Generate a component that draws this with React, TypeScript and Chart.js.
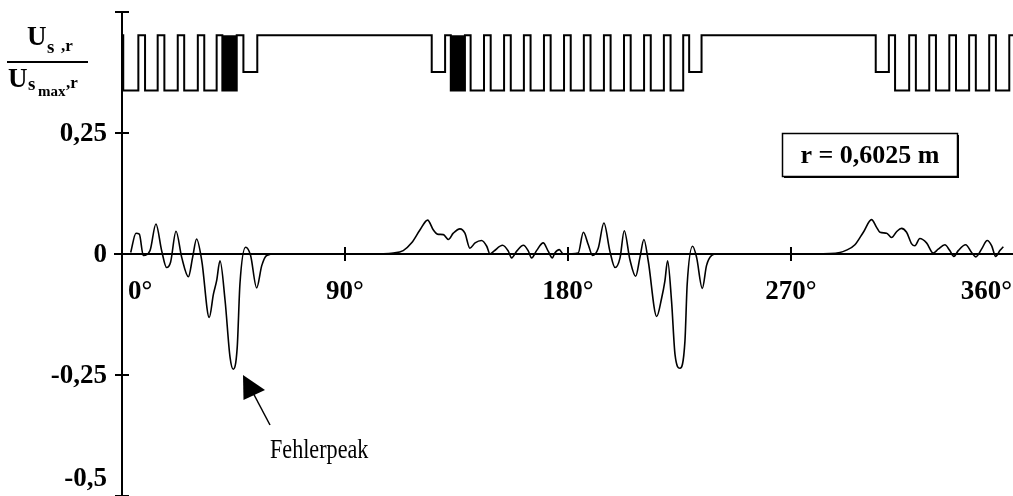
import { useEffect, useRef } from "react";
import { Chart, registerables } from "chart.js";

Chart.register(...registerables);

// Normalised signal U_s,r / U_smax,r over one revolution (angle in degrees)
const curveAngles = [
  3.5, 5.65, 7.0, 8.6, 11.3, 13.7, 16.0, 18.0, 19.6, 21.8, 24.1, 26.8, 28.5, 30.1, 32.2,
  35.2, 36.9, 38.2, 39.55, 41.6, 43.6, 44.9, 46.5, 47.6, 49.9, 51.9, 54.35, 56.4, 58.4,
  62.0, 80.0, 100.0, 109.5, 113.5, 116.9, 120.3, 123.35, 125.6, 127.25, 129.7, 131.7,
  133.7, 136.4, 138.4, 140.4, 142.5, 145.1, 147.2, 148.5, 150.1, 153.6, 155.9, 157.25,
  159.3, 162.0, 164.0, 165.3, 167.3, 170.0, 172.0, 173.7, 174.7, 176.5, 178.1, 184.1,
  186.2, 188.2, 189.9, 192.2, 194.5, 196.9, 199.0, 201.0, 202.7, 205.0, 207.3, 209.0,
  210.65, 212.4, 215.8, 217.8, 219.1, 220.2, 221.8, 223.2, 225.2, 227.2, 228.1, 230.3,
  231.9, 234.2, 235.9, 238.0, 240.0, 260.0, 280.0, 289.75, 292.4, 295.8, 299.2, 302.5,
  304.55, 305.9, 308.6, 310.6, 312.6, 314.6, 316.65, 318.7, 320.0, 322.0, 324.7, 327.4,
  329.4, 332.1, 334.1, 335.75, 337.5, 340.5, 342.9, 344.6, 346.9, 349.2, 351.0, 352.6,
  354.3, 355.7,
];
const curveValues = [
  0.003, 0.043, 0.041, -0.003, 0.007, 0.062, 0.007, -0.028, -0.017, 0.047, -0.007, -0.047,
  -0.007, 0.031, -0.014, -0.131, -0.083, -0.055, -0.014, -0.096, -0.213, -0.238, -0.193,
  -0.062, 0.014, -0.003, -0.07, -0.024, -0.003, 0.0, 0.0, 0.0, 0.002, 0.007, 0.023, 0.05,
  0.07, 0.05, 0.041, 0.04, 0.03, 0.043, 0.052, 0.043, 0.012, 0.023, 0.028, 0.016, 0.0,
  0.006, 0.018, 0.006, -0.008, 0.006, 0.018, 0.006, -0.008, 0.007, 0.023, 0.006, -0.008,
  0.002, 0.009, 0.0, 0.002, 0.045, 0.019, -0.003, 0.012, 0.064, 0.006, -0.028, -0.008,
  0.048, -0.012, -0.046, -0.008, 0.03, -0.015, -0.129, -0.091, -0.056, -0.014, -0.098,
  -0.208, -0.236, -0.18, -0.063, 0.016, -0.007, -0.071, -0.024, -0.003, 0.0, 0.0, 0.0,
  0.003, 0.008, 0.019, 0.045, 0.071, 0.055, 0.045, 0.043, 0.034, 0.046, 0.053, 0.045,
  0.021, 0.017, 0.032, 0.023, 0.002, 0.01, 0.019, 0.007, -0.005, 0.007, 0.019, 0.003,
  -0.006, 0.01, 0.028, 0.017, -0.005, 0.007, 0.015,
];

// Slot pattern of the rotor (schematic): level after each edge
const SLOT_HIGH = 0.452;
const SLOT_MID = 0.376;
const SLOT_LOW = 0.338;
const slotEdges = [
  0, 0.5, 6.6, 9.3, 14.4, 17.1, 22.5, 25.1, 30.6, 33.2, 38.2, 40.5, 46.3, 49.0, 54.6,
  125.0, 130.4, 132.7, 138.4, 140.7, 146.1, 148.8, 154.2, 156.9, 162.2, 164.9, 170.3,
  173.0, 178.4, 181.1, 186.4, 189.1, 194.5, 197.2, 202.6, 205.3, 210.7, 213.4, 218.7,
  221.4, 226.5, 228.9, 233.9, 304.2, 309.5, 312.0, 317.7, 320.4, 325.8, 328.5, 333.9,
  336.6, 341.9, 344.6, 350.0, 352.7, 358.1, 359.6,
];
const H = SLOT_HIGH, M = SLOT_MID, L = SLOT_LOW;
const slotLevels = [
  H, L, H, L, H, L, H, L, H, L, H, L, H, M, H,
  M, H, L, H, L, H, L, H, L, H, L, H,
  L, H, L, H, L, H, L, H, L, H, L, H,
  L, H, M, H, M, H, L, H, L, H, L, H,
  L, H, L, H, L, H, H,
];
// The marked (reference) slot, drawn filled
const markedSlotStart = [40.5, 132.7];
const markedSlotEnd = [46.3, 138.4];

const X_MIN = 0;
const X_MAX = 359.6;
const Y_MIN = -0.5;
const Y_MAX = 0.5;

const yTickValues = [0.5, 0.25, 0, -0.25, -0.5];
const yTickLabels = ["", "0,25", "0", "-0,25", "-0,5"];
const xTickValues = [0, 90, 180, 270, 360];
const xTickLabels = ["0°", "90°", "180°", "270°", "360°"];
const xTickMarks = [90, 180, 270];
const radiusLabel = "r = 0,6025 m";
const peakLabel = "Fehlerpeak";

const SERIF = '"Liberation Serif", "Times New Roman", serif';

function text(
  ctx: CanvasRenderingContext2D,
  s: string,
  x: number,
  y: number,
  font: string,
  align: CanvasTextAlign = "left",
  baseline: CanvasTextBaseline = "alphabetic",
  sx = 1
) {
  ctx.save();
  ctx.font = font;
  ctx.textAlign = align;
  ctx.textBaseline = baseline;
  ctx.translate(x, y);
  ctx.scale(sx, 1);
  ctx.fillStyle = "#000";
  ctx.fillText(s, 0, 0);
  ctx.restore();
}

const axesPlugin = {
  id: "crossAxes",
  beforeDatasetsDraw(chart: any) {
    const { ctx } = chart;
    const xs = chart.scales.x;
    const ys = chart.scales.y;
    const x0 = xs.getPixelForValue(0);
    const y0 = ys.getPixelForValue(0);
    ctx.save();
    ctx.strokeStyle = "#000";
    ctx.lineWidth = 2;
    ctx.beginPath();
    ctx.moveTo(x0, ys.getPixelForValue(Y_MAX));
    ctx.lineTo(x0, chart.height);
    ctx.moveTo(x0 - 8, y0);
    ctx.lineTo(chart.width, y0);
    yTickValues.forEach((v) => {
      const y = ys.getPixelForValue(v);
      ctx.moveTo(x0 - 7, y);
      ctx.lineTo(x0 + 7, y);
    });
    xTickMarks.forEach((v) => {
      const x = xs.getPixelForValue(v);
      ctx.moveTo(x, y0 - 7);
      ctx.lineTo(x, y0 + 7);
    });
    ctx.stroke();
    ctx.restore();
  },
  afterDraw(chart: any) {
    const { ctx } = chart;
    const xs = chart.scales.x;
    const ys = chart.scales.y;
    const x0 = xs.getPixelForValue(0);
    const y0 = ys.getPixelForValue(0);
    const bold = `bold 27px ${SERIF}`;

    // y tick labels
    yTickValues.forEach((v, i) => {
      if (!yTickLabels[i]) return;
      const y = Math.min(ys.getPixelForValue(v), chart.height - 18);
      text(ctx, yTickLabels[i], x0 - 15, y + 1, bold, "right", "middle");
    });

    // x tick labels below the zero line
    ctx.save();
    ctx.font = bold;
    xTickValues.forEach((v, i) => {
      const w = ctx.measureText(xTickLabels[i]).width;
      let x = xs.getPixelForValue(v);
      x = Math.max(x, x0 + 6 + w / 2);
      x = Math.min(x, chart.width - 1 - w / 2);
      text(ctx, xTickLabels[i], x, y0 + 38, bold, "center", "middle");
    });
    ctx.restore();

    // axis title: U_s,r / U_smax,r
    text(ctx, "U", 27, 45, `bold 27px ${SERIF}`);
    text(ctx, "s", 47, 53, `bold 19px ${SERIF}`);
    text(ctx, ",r", 61, 51, `bold 17px ${SERIF}`);
    ctx.save();
    ctx.strokeStyle = "#000";
    ctx.lineWidth = 2;
    ctx.beginPath();
    ctx.moveTo(7, 62);
    ctx.lineTo(88, 62);
    ctx.stroke();
    ctx.restore();
    text(ctx, "U", 8, 87, `bold 27px ${SERIF}`);
    text(ctx, "s", 28, 90, `bold 19px ${SERIF}`);
    text(ctx, "max", 38, 96, `bold 15px ${SERIF}`);
    text(ctx, ",r", 66, 88, `bold 17px ${SERIF}`);

    // radius box
    ctx.save();
    ctx.strokeStyle = "#000";
    ctx.lineWidth = 1.5;
    ctx.strokeRect(782.5, 133.5, 175, 43);
    ctx.fillStyle = "#000";
    ctx.fillRect(784, 176, 175, 2);
    ctx.fillRect(957, 135, 2, 43);
    ctx.restore();
    text(ctx, radiusLabel, 870, 156, `bold 26px ${SERIF}`, "center", "middle");

    // error peak annotation
    ctx.save();
    ctx.fillStyle = "#000";
    ctx.strokeStyle = "#000";
    ctx.lineWidth = 1.5;
    ctx.beginPath();
    ctx.moveTo(251, 389);
    ctx.lineTo(270, 425);
    ctx.stroke();
    ctx.beginPath();
    ctx.moveTo(243, 375);
    ctx.lineTo(243.5, 400);
    ctx.lineTo(265, 390);
    ctx.closePath();
    ctx.fill();
    ctx.restore();
    text(ctx, peakLabel, 270, 458, `27px ${SERIF}`, "left", "alphabetic", 0.82);
  },
};

export default function App() {
  const canvasRef = useRef<HTMLCanvasElement | null>(null);

  useEffect(() => {
    const canvas = canvasRef.current;
    if (!canvas) return;

    const curve = curveAngles.map((a, i) => ({ x: a, y: curveValues[i] }));
    const slots = slotEdges.map((a, i) => ({ x: a, y: slotLevels[i] }));
    const marked = markedSlotStart.map((s, i) => ({
      type: "line" as const,
      data: [
        { x: s, y: SLOT_HIGH },
        { x: markedSlotEnd[i], y: SLOT_HIGH },
      ],
      borderWidth: 0,
      borderColor: "#000",
      backgroundColor: "#000",
      fill: { value: SLOT_LOW },
      pointRadius: 0,
    }));

    const chart = new Chart(canvas, {
      type: "line",
      data: {
        datasets: [
          {
            data: curve,
            borderColor: "#000",
            borderWidth: 1.6,
            pointRadius: 0,
            cubicInterpolationMode: "monotone",
            fill: false,
          },
          {
            data: slots,
            borderColor: "#000",
            borderWidth: 2,
            pointRadius: 0,
            stepped: true,
            fill: false,
          },
          ...marked,
        ] as any,
      },
      options: {
        animation: false,
        responsive: true,
        maintainAspectRatio: false,
        layout: { padding: { left: 122, right: 0, top: 12, bottom: 0 } },
        plugins: {
          legend: { display: false },
          title: { display: false },
          tooltip: { enabled: false },
        },
        scales: {
          x: { type: "linear", min: X_MIN, max: X_MAX, display: false },
          y: { type: "linear", min: Y_MIN, max: Y_MAX, display: false },
        },
      },
      plugins: [axesPlugin],
    });

    return () => chart.destroy();
  }, []);

  return (
    <div
      style={{
        position: "absolute",
        left: 0,
        top: 0,
        width: 1013,
        height: 496,
        background: "#fff",
      }}
    >
      <canvas ref={canvasRef} />
    </div>
  );
}
